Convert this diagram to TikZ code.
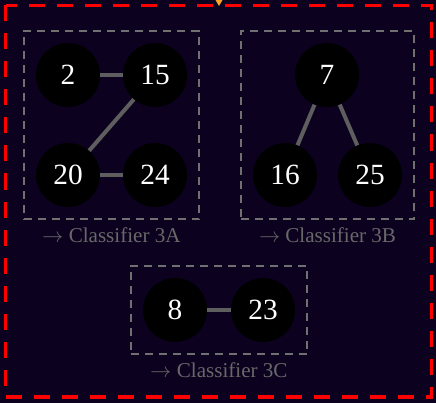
\documentclass[tikz,border=0pt]{standalone}
\usepackage{fontspec}
\setmainfont{Liberation Serif}
\newfontfamily\arrowfont{latinmodern-math.otf}
\usetikzlibrary{fit}

\definecolor{bgpurple}{HTML}{0D0120}
\definecolor{edgegray}{HTML}{5E5E5E}
\definecolor{boxgray}{HTML}{707070}
\definecolor{labelgray}{HTML}{686868}
\definecolor{tiporange}{HTML}{F5A623}

\newcommand{\toarrow}{{\arrowfont →}}

\tikzset{
  vertex/.style={circle, fill=black, text=white, minimum size=48pt, inner sep=0pt,
    font=\fontsize{22}{22}\selectfont},
  link/.style={draw=edgegray, line width=3pt},
  group/.style={draw=boxgray, dash pattern=on 6pt off 4.5pt, line width=1.5pt, inner sep=9pt},
  caption/.style={text=labelgray, font=\fontsize{15.8}{16}\selectfont, anchor=north, inner sep=2pt},
}

\begin{document}
\begin{tikzpicture}[x=0.75pt, y=-0.75pt]
	\fill[bgpurple] (0,0) rectangle (436,403);
	\useasboundingbox (0,0) rectangle (436,403);
	\draw[red, line width=2.5pt, dash pattern=on 12pt off 9pt] (5.5,5.5) rectangle (431.5,397);
	\fill[tiporange] (215.5,0) -- (222.5,0) -- (219,6) -- cycle;

	% group A
	\node[vertex] (a2) at (68,75) {2}; \node[vertex] (a15) at (155,75) {15};
	\node[vertex] (a20) at (68,175) {20}; \node[vertex] (a24) at (155,175) {24};
	\draw[link] (a2) -- (a15); \draw[link] (a15) -- (a20); \draw[link] (a20) -- (a24);
	\node[group, fit=(a2)(a15)(a20)(a24)] (grpA) {};
	\node[caption] (capA) at ([yshift=-3pt]grpA.south) {\toarrow\ Classifier 3A};

	% group B
	\node[vertex] (b7) at (327,75) {7};
	\node[vertex] (b16) at (285,175) {16}; \node[vertex] (b25) at (370,175) {25};
	\draw[link] (b7) -- (b16); \draw[link] (b7) -- (b25);
	\node[group, fit=(b7)(b16)(b25)] (grpB) {};
	\node[caption] (capB) at ([yshift=-3pt]grpB.south) {\toarrow\ Classifier 3B};

	% group C
	\node[vertex] (c8) at (175,310) {8}; \node[vertex] (c23) at (263,310) {23};
	\draw[link] (c8) -- (c23);
	\node[group, fit=(c8)(c23)] (grpC) {};
	\node[caption] (capC) at ([yshift=-3pt]grpC.south) {\toarrow\ Classifier 3C};
\end{tikzpicture}
\end{document}
